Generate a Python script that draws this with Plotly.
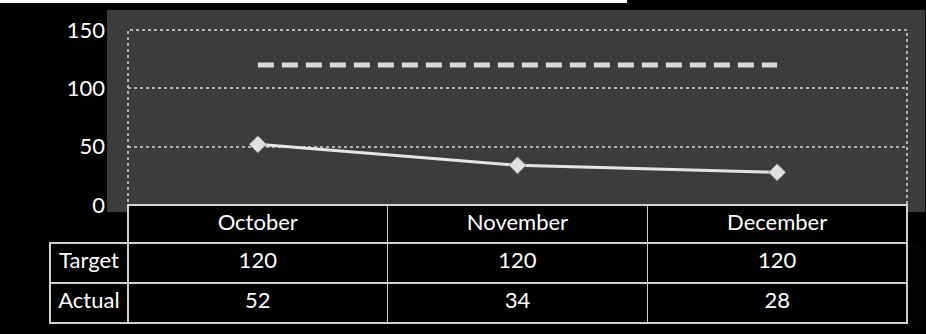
import plotly.graph_objects as go

# Monthly target vs. actual
months = ["October", "November", "December"]
target = [120, 120, 120]
actual = [52, 34, 28]
row_labels = ["Target", "Actual"]
y_ticks = [0, 50, 100, 150]

W, H = 926, 334
FONT = "Lato"
FS = 22

# pixel -> paper helpers
def px(x):
    return x / W

def py(y):
    return 1 - y / H

fig = go.Figure()

fig.add_trace(go.Scatter(
    x=months, y=target, name="Target", mode="lines",
    line=dict(color="#d8d8d8", width=5, dash="16px,8px"),
    hoverinfo="skip",
))
fig.add_trace(go.Scatter(
    x=months, y=actual, name="Actual", mode="lines+markers",
    line=dict(color="#e6e6e6", width=3),
    marker=dict(symbol="diamond", size=13, color="#e0e0e0",
                line=dict(color="#9a9a9a", width=1)),
    hoverinfo="skip",
))

# data table underneath the plot
fig.add_trace(go.Table(
    domain=dict(x=[px(50), px(907)], y=[py(327), py(205)]),
    columnwidth=[78, 260, 260, 260],
    header=dict(
        values=[""] + months,
        fill_color=["rgba(0,0,0,0)", "black", "black", "black"],
        line=dict(color=["rgba(0,0,0,0)", "#d0d0d0", "#d0d0d0", "#d0d0d0"],
                  width=[0, 1.5, 1.5, 1.5]),
        font=dict(family=FONT, size=FS, color="white"),
        align="center",
        height=38,
    ),
    cells=dict(
        values=[row_labels] + [[t, a] for t, a in zip(target, actual)],
        fill_color="black",
        line=dict(color="#d0d0d0", width=1.5),
        font=dict(family=FONT, size=FS, color="white"),
        align="center",
        height=40,
    ),
))

# page edge strip along the top
fig.add_shape(type="rect", xref="paper", yref="paper",
              x0=0, x1=px(627), y0=py(3), y1=1,
              fillcolor="white", line=dict(width=0), layer="below")
# chart-area backdrop behind the plot
fig.add_shape(type="rect", xref="paper", yref="paper",
              x0=px(107), x1=px(925), y0=py(212), y1=py(10),
              fillcolor="#3c3c3c", line=dict(width=0), layer="below")
# dotted plot border
fig.add_shape(type="rect", xref="x domain", yref="y domain",
              x0=0, x1=1, y0=0, y1=1,
              line=dict(color="#d8d8d8", width=1.5, dash="dot"))

fig.update_layout(
    width=W, height=H,
    margin=dict(l=0, r=0, t=0, b=0, autoexpand=False),
    paper_bgcolor="black",
    plot_bgcolor="#494949",
    showlegend=False,
    font=dict(family=FONT, color="white", size=FS),
    xaxis=dict(
        domain=[px(128), px(907)],
        type="category", range=[-0.5, 2.5],
        showticklabels=False, showgrid=False, zeroline=False,
        fixedrange=True, automargin=False,
    ),
    yaxis=dict(
        domain=[py(205), py(30)],
        range=[0, 150], tickvals=y_ticks,
        tickfont=dict(family=FONT, size=FS, color="white"),
        ticklabelstandoff=22,
        showgrid=True, gridcolor="#b0b0b0", griddash="dot", gridwidth=1.5,
        zeroline=False, fixedrange=True, automargin=False,
    ),
)

fig.write_html("out.html")
